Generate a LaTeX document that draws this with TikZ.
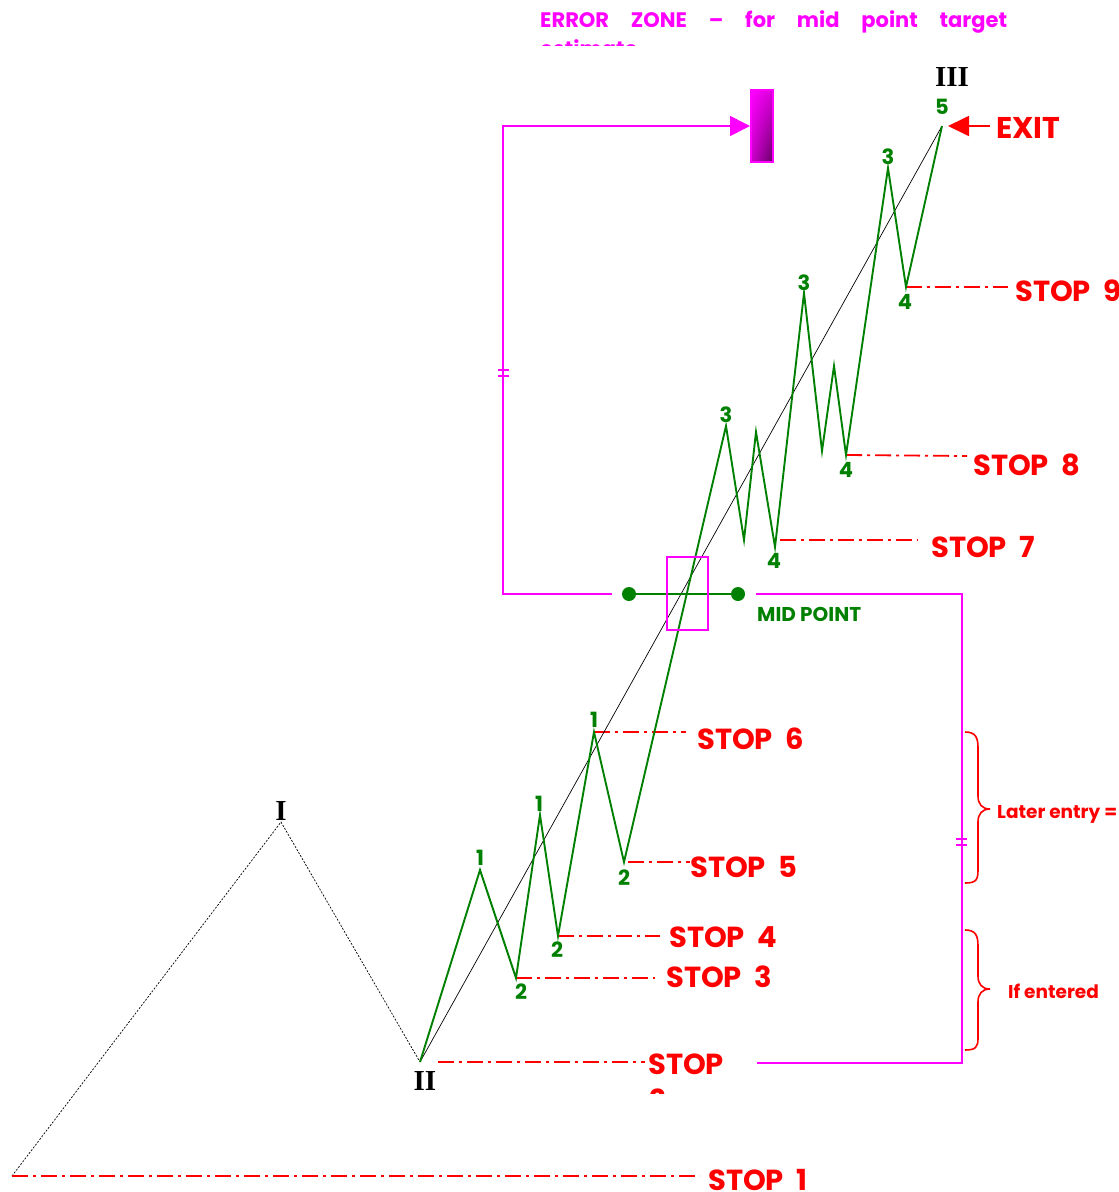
\documentclass[tikz,border=0pt]{standalone}
\usepackage{fontspec}
\setmainfont{Poppins}
\newfontfamily\romanlab{Liberation Serif}
\usetikzlibrary{arrows.meta,shadings}
\definecolor{wgreen}{RGB}{0,128,0}
\definecolor{wred}{RGB}{255,0,0}
\definecolor{wmag}{RGB}{255,0,255}
\definecolor{wpurple}{RGB}{100,0,100}
\tikzset{
  wave/.style={draw=wgreen, line width=1.9pt, line join=miter},
  trend/.style={draw=black, line width=0.7pt},
  dotline/.style={draw=black, line width=0.7pt, dash pattern=on 2pt off 1.5pt},
  stopline/.style={draw=wred, line width=1.8pt, dash pattern=on 16pt off 5pt on 3pt off 5pt},
  magline/.style={draw=wmag, line width=1.6pt},
  stoplab/.style={anchor=base west, inner sep=0pt, text=wred, font=\fontsize{29}{30}\selectfont\bfseries},
  numlab/.style={inner sep=0pt, text=wgreen, font=\fontsize{21}{22}\selectfont\bfseries},
  romlab/.style={inner sep=0pt, anchor=base, text=black, font=\fontsize{29}{30}\selectfont\romanlab\bfseries},
  bracelab/.style={anchor=base west, inner sep=0pt, text=wred, font=\fontsize{18.5}{20}\selectfont\bfseries},
  brace/.style={draw=wred, line width=1.6pt},
}
\begin{document}
\begin{tikzpicture}[x=1pt,y=-1pt]
\useasboundingbox (0,0) rectangle (1119,1192);
% ---- key points
\coordinate (s0) at (12,1176);
\coordinate (pI) at (281,822);
\coordinate (pII) at (420,1062);
\coordinate (a1) at (480,870);
\coordinate (a2) at (516,978);
\coordinate (b1) at (540,815);
\coordinate (b2) at (558,936);
\coordinate (c1) at (594,732);
\coordinate (c2) at (624,862);
\coordinate (d3) at (726,426);
\coordinate (dx1) at (744,540);
\coordinate (dx2) at (756,432);
\coordinate (d4) at (775,547);
\coordinate (e3) at (804,293);
\coordinate (ex1) at (822,451);
\coordinate (ex2) at (834,366);
\coordinate (e4) at (846,455);
\coordinate (f3) at (888,168);
\coordinate (f4) at (906,287);
\coordinate (g5) at (942,126);

% ---- error zone box
\shade[upper left=wmag, upper right=wmag!85!black, lower left=wmag!80!black, lower right=wpurple]
  (751,90) rectangle (773,162);
\draw[wmag, line width=1.4pt] (751,90) rectangle (773,162);
\coordinate (ezl) at (750,126);

% ---- magenta measuring brackets
\coordinate (ml) at (612,594);
\coordinate (mlc) at (503,594);
\coordinate (mtc) at (503,126);
\draw[magline, -{Triangle[length=20pt,width=20pt]}] (ml) -- (mlc) -- (mtc) -- (ezl);
\draw[magline] (498,370) -- (509,370) (498,376) -- (509,376);
\coordinate (mr) at (756,594);
\coordinate (mrc) at (962,594);
\coordinate (mbc) at (962,1063);
\coordinate (mb) at (757,1063);
\draw[magline] (mr) -- (mrc) -- (mbc) -- (mb);
\draw[magline] (956,839) -- (967,839) (956,845) -- (967,845);

% ---- dotted I-II
\draw[dotline] (s0) -- (pI) -- (pII);

% ---- stop lines
\draw[stopline] (s0) -- (700,1176) coordinate (st1);
\draw[stopline] (438,1062) -- (645,1062) coordinate (st2);
\draw[stopline] (a2) -- (655,978) coordinate (st3);
\draw[stopline] (b2) -- (660,936) coordinate (st4);
\draw[stopline] ([xshift=4pt]c2) -- (690,862) coordinate (st5);
\draw[stopline] (c1) -- (686,732) coordinate (st6);
\draw[stopline] ([xshift=5pt]d4 |- 0,540) -- (918,540) coordinate (st7);
\draw[stopline] (e4) -- (967,456) coordinate (st8);
\draw[stopline] (f4) -- (1008,287) coordinate (st9);

% ---- trend line and wave
\draw[trend] (pII) -- (g5);
\draw[wave] (pII) -- (a1) -- (a2) -- (b1) -- (b2) -- (c1) -- (c2) -- (d3) -- (dx1) -- (dx2) -- (d4)
  -- (e3) -- (ex1) -- (ex2) -- (e4) -- (f3) -- (f4) -- (g5);

% ---- mid point
\coordinate (mp1) at (629,594);
\coordinate (mp2) at (738,594);
\draw[wgreen, line width=1.8pt] (mp1) -- (mp2);
\fill[wgreen] (mp1) circle (7pt) (mp2) circle (7pt);
\draw[wmag, line width=1.4pt] (667,557) rectangle (708,630);
\node[anchor=base west, inner sep=0pt, text=wgreen, font=\fontsize{20}{22}\selectfont\bfseries] (midlab) at (757,621) {MID POINT};

% ---- wave labels
\node[numlab] (la1) at (480,858) {1};
\node[numlab] (la2) at (521,992) {2};
\node[numlab] (lb1) at (539,804) {1};
\node[numlab] (lb2) at (557,950) {2};
\node[numlab] (lc1) at (594,720) {1};
\node[numlab] (lc2) at (624,878) {2};
\node[numlab] (ld3) at (726,415) {3};
\node[numlab] (ld4) at (774,561) {4};
\node[numlab] (le3) at (804,283) {3};
\node[numlab] (le4) at (846,470) {4};
\node[numlab] (lf3) at (888,157) {3};
\node[numlab] (lf4) at (905,302) {4};
\node[numlab] (lg5) at (942,107) {5};

\node[romlab] (lI) at (281,820) {I};
\node[romlab] (lII) at (425,1090) {II};
\node[romlab] (lIII) at (952,86) {III};

% ---- stop labels
\node[stoplab] (t1) at (708,1190) {STOP\ \ 1};
\node[stoplab] (t2) at (648,1074) {STOP};
\begin{scope}
  \clip (600,1078) rectangle (760,1093);
  \node[stoplab] (t2b) at (649,1110) {2};
\end{scope}
\node[stoplab] (t3) at (666,987) {STOP\ \ 3};
\node[stoplab] (t4) at (669,947) {STOP\ \ 4};
\node[stoplab] (t5) at (690,877) {STOP\ \ 5};
\node[stoplab] (t6) at (697,749) {STOP\ \ 6};
\node[stoplab] (t7) at (931,557) {STOP\ \ 7};
\node[stoplab] (t8) at (973,475) {STOP\ \ 8};
\node[stoplab] (t9) at (1015,301) {STOP\ \ 9};

% ---- exit
\node[stoplab, font=\fontsize{30}{32}\selectfont\bfseries] (exit) at (996,138) {EXIT};
\coordinate (exs) at (990,126);
\coordinate (ext) at (948,126);
\draw[wred, line width=1.8pt, -{Triangle[length=21pt,width=20pt]}] (exs) -- (ext);

% ---- error zone title
\node[anchor=base west, inner sep=0pt, text=wmag, font=\fontsize{21}{25}\selectfont\bfseries] (ez) at (540,27)
  {\makebox[467pt][s]{ERROR ZONE – for mid point target}};
\begin{scope}
  \clip (530,30) rectangle (700,45);
  \node[anchor=base west, inner sep=0pt, text=wmag, font=\fontsize{21}{25}\selectfont\bfseries] (ez2) at (540,56) {estimate};
\end{scope}

% ---- braces
\draw[brace] (965,732) .. controls (976,732) and (978,738) .. (978,748) -- (978,796)
  .. controls (978,804) and (982,809) .. (990,809)
  .. controls (982,809) and (978,814) .. (978,822) -- (978,870)
  .. controls (978,880) and (976,883) .. (965,883);
\draw[brace] (965,930) .. controls (976,930) and (978,936) .. (978,946) -- (978,976)
  .. controls (978,984) and (982,989) .. (990,989)
  .. controls (982,989) and (978,994) .. (978,1002) -- (978,1038)
  .. controls (978,1047) and (976,1050) .. (965,1050);
\node[bracelab] (le) at (997,818) {Later entry = };
\node[bracelab] (ie) at (1008,998) {If entered};
\end{tikzpicture}
\end{document}
